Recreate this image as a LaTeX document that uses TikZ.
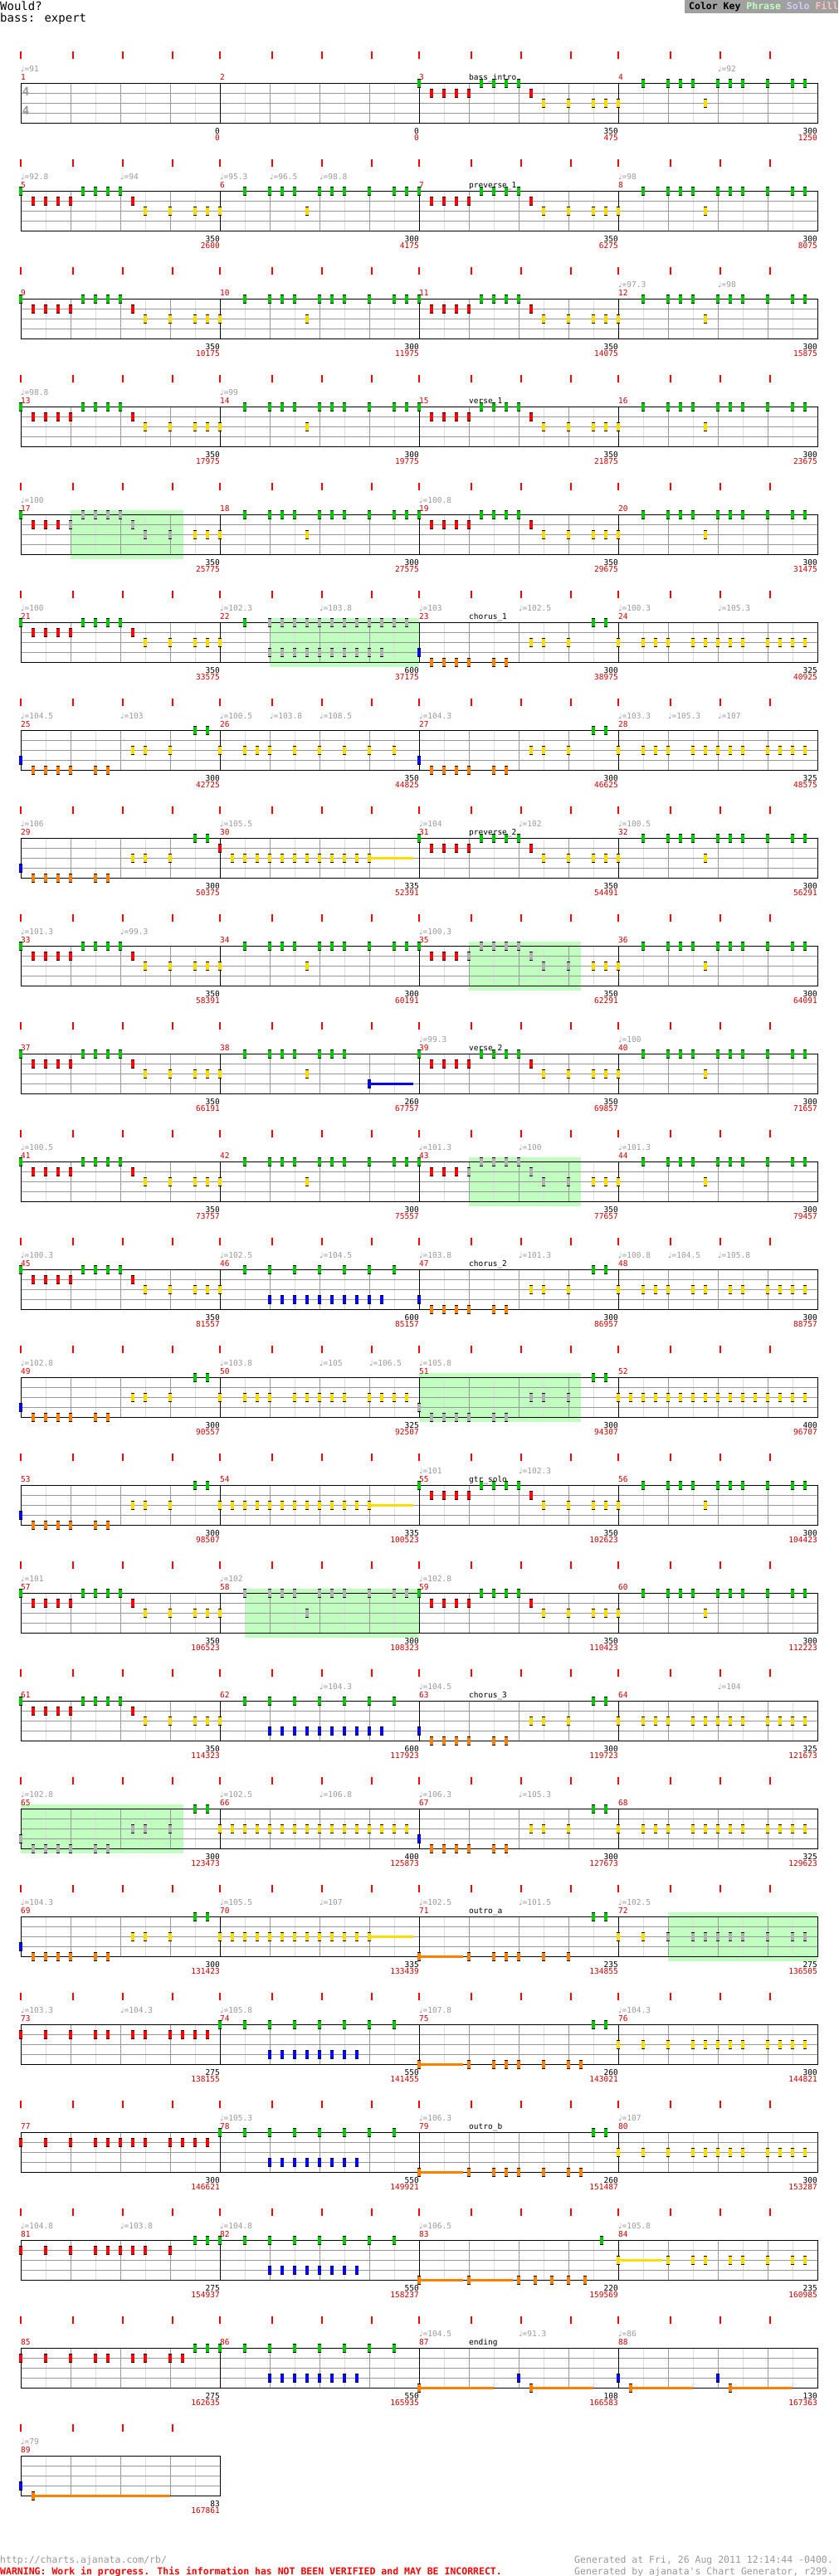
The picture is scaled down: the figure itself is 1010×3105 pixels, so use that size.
\documentclass[tikz,border=0pt]{standalone}
\usepackage{fontspec}
\newfontfamily\chartfont{DejaVu Sans Mono}
\newfontfamily\notefont{DejaVu Sans}

\definecolor{gemgreen}{RGB}{0,200,0}
\definecolor{gemred}{RGB}{255,0,0}
\definecolor{gemyellow}{RGB}{255,221,0}
\definecolor{gemblue}{RGB}{0,0,255}
\definecolor{gemorange}{RGB}{255,128,0}
\definecolor{gemgray}{RGB}{176,176,176}
\definecolor{phrasegreen}{RGB}{192,255,192}
\definecolor{solocolor}{RGB}{204,204,255}
\definecolor{fillcolor}{RGB}{255,192,192}
\definecolor{keygray}{RGB}{160,160,160}
\definecolor{numred}{RGB}{204,0,0}
\definecolor{beatgray}{RGB}{153,153,153}
\definecolor{halfgray}{RGB}{221,221,221}

\tikzset{
  halfline/.style={draw=halfgray,line width=1pt},
  beatline/.style={draw=beatgray,line width=1pt},
  barline/.style={draw=black,line width=1pt},
  smallfont/.style={inner sep=0pt,font=\chartfont\fontsize{9.5}{10}\selectfont},
  measnum/.style={smallfont,anchor=base west,text=numred},
  tempolabel/.style={smallfont,anchor=base west,text=beatgray},
  seclabel/.style={smallfont,anchor=base west,text=black},
  tally/.style={smallfont,anchor=base east},
  timesig/.style={inner sep=0pt,text=beatgray,font=\chartfont\bfseries\fontsize{14}{14}\selectfont},
  titletext/.style={inner sep=0pt,anchor=base west,font=\chartfont\fontsize{14}{16}\selectfont},
  foottext/.style={inner sep=0pt,font=\chartfont\fontsize{11.5}{12}\selectfont},
}

% gems: lane, colour, measure x, staff top, sixteenths
\newcommand{\gems}[5]{%
  \foreach \s in {#5}{
    \fill[black] ({#3+15*\s-1.75},{#4+12*#1-5.5}) rectangle ++(3.5,11);
    \fill[#2] ({#3+15*\s-1.75},{#4+12*#1-4.5}) rectangle ++(3.5,9);
  }}
% sustained gem: lane, colour, measure x, staff top, start, end
\newcommand{\sus}[6]{%
  \fill[#2] ({#3+15*#5},{#4+12*#1-1.5}) rectangle ({#3+15*#6},{#4+12*#1+1.5});
  \gems{#1}{#2}{#3}{#4}{#5}}
\newcommand{\phrase}[3]{\fill[phrasegreen] (#1,{#3-5}) rectangle (#2,{#3+54});}

% one row of the chart: staff top, measures, first measure number
\newcommand{\chartrow}[3]{%
  \pgfmathsetmacro\xend{25+240*#2}
  \foreach \m in {1,...,#2}{
    \pgfmathsetmacro\X{25+240*(\m-1)}
    \pgfmathtruncatemacro\mn{#3+\m-1}
    \foreach \o in {0,62.5,122.5,182.5}
      \fill[gemred] ({\X+\o-1},{#1-38}) rectangle ++(2,8.5);
    \foreach \o in {30,90,150,210}
      \draw[halfline] ({\X+\o},#1) -- ++(0,48);
    \foreach \o in {60,120,180}
      \draw[beatline] ({\X+\o},#1) -- ++(0,48);
    \node[measnum] at (\X,{#1-3.5}) {\mn};
  }
  \foreach \l in {12,24,36}
    \draw[beatline] (25,{#1+\l}) -- (\xend,{#1+\l});
  \foreach \m in {1,...,#2}
    \draw[barline] ({25+240*(\m-1)},#1) -- ++(0,48);
  \draw[barline] (25,#1) rectangle (\xend,{#1+48});
}
\newcommand{\tempos}[2]{\foreach \xt/\bpm in {#2}
  \node[tempolabel] at (\xt,{#1-13.5}) {{\notefont ♩}=\bpm};}
\newcommand{\barcounts}[2]{\foreach \xe/\bn/\rn in {#2}{
  \node[tally] at (\xe,{#1+61}) {\bn};
  \node[tally,text=numred] at (\xe,{#1+69.5}) {\rn};}}

% riffs
\newcommand{\riffA}[2]{\gems{0}{gemgreen}{#1}{#2}{0,5,6,7,8}\gems{1}{gemred}{#1}{#2}{1,2,3,4,9}\gems{2}{gemyellow}{#1}{#2}{10,12,14,15}}
\newcommand{\riffAp}[2]{\gems{0}{gemgreen}{#1}{#2}{0}\gems{1}{gemred}{#1}{#2}{1,2,3}%
  \gems{1}{gemgray}{#1}{#2}{4,9}\gems{0}{gemgray}{#1}{#2}{5,6,7,8}\gems{2}{gemgray}{#1}{#2}{10,12}%
  \gems{2}{gemyellow}{#1}{#2}{14,15}}
\newcommand{\riffB}[2]{\gems{2}{gemyellow}{#1}{#2}{0,7}\gems{0}{gemgreen}{#1}{#2}{2,4,5,6,8,9,10,12,14,15}}
\newcommand{\riffC}[2]{\gems{3}{gemblue}{#1}{#2}{0}\gems{4}{gemorange}{#1}{#2}{1,2,3,4,6,7}%
  \gems{2}{gemyellow}{#1}{#2}{9,10,12}\gems{0}{gemgreen}{#1}{#2}{14,15}}
\newcommand{\riffCp}[2]{\gems{3}{gemgray}{#1}{#2}{0}\gems{4}{gemgray}{#1}{#2}{1,2,3,4,6,7}%
  \gems{2}{gemgray}{#1}{#2}{9,10,12}\gems{0}{gemgreen}{#1}{#2}{14,15}}
\newcommand{\riffD}[2]{\gems{2}{gemyellow}{#1}{#2}{0,2,3,4,6,7,8,9,10,12,13,14,15}}
\newcommand{\riffH}[2]{\gems{2}{gemyellow}{#1}{#2}{0}\gems{0}{gemgreen}{#1}{#2}{2,4,...,15}\gems{3}{gemblue}{#1}{#2}{4,...,13}}
\newcommand{\riffK}[2]{\gems{0}{gemgreen}{#1}{#2}{0,2,4,...,15}\gems{3}{gemblue}{#1}{#2}{4,...,11}}
\newcommand{\riffL}[2]{\sus{4}{gemorange}{#1}{#2}{0}{3.5}\gems{4}{gemorange}{#1}{#2}{4,6,7,8,10,12,13}\gems{0}{gemgreen}{#1}{#2}{14,15}}
\newcommand{\riffM}[2]{\gems{2}{gemyellow}{#1}{#2}{0,2,4,6,7,8,9,10,12,13,14,15}}
\newcommand{\riffF}[2]{\sus{2}{gemyellow}{#1}{#2}{12}{15.5}\gems{2}{gemyellow}{#1}{#2}{0,...,11}}

\begin{document}
\begin{tikzpicture}[x=1pt,y=-1pt]
\useasboundingbox (0,0) rectangle (1010,3105);

% header and colour key
\node[titletext] (title) at (0,12.7) {Would?};
\node[titletext] (part) at (0,26.7) {bass: expert};
\fill[keygray] (825,0) rectangle (1010,16);
\node[inner sep=0pt,anchor=base west,font=\chartfont\bfseries\fontsize{11.5}{12}\selectfont] (key) at (830,11)
  {Color Key \textcolor{phrasegreen}{Phrase} \textcolor{solocolor}{Solo} \textcolor{fillcolor}{Fill}};

% measures 1-4
\chartrow{100}{4}{1}
\node[timesig] (ts1) at (31,110) {4};
\node[timesig] (ts2) at (31,133) {4};
\riffA{505}{100}\riffB{745}{100}
\tempos{100}{25/91,865/92}
\node[seclabel] at (565,96) {bass\_intro};
\barcounts{100}{265/0/0,505/0/0,745/350/475,985/300/1250}

% measures 5-8
\chartrow{230}{4}{5}
\riffA{25}{230}\riffB{265}{230}\riffA{505}{230}\riffB{745}{230}
\tempos{230}{25/92.8,145/94,265/95.3,325/96.5,385/98.8,745/98}
\node[seclabel] at (565,226) {preverse\_1};
\barcounts{230}{265/350/2600,505/300/4175,745/350/6275,985/300/8075}

% measures 9-12
\chartrow{360}{4}{9}
\riffA{25}{360}\riffB{265}{360}\riffA{505}{360}\riffB{745}{360}
\tempos{360}{745/97.3,865/98}
\barcounts{360}{265/350/10175,505/300/11975,745/350/14075,985/300/15875}

% measures 13-16
\chartrow{490}{4}{13}
\riffA{25}{490}\riffB{265}{490}\riffA{505}{490}\riffB{745}{490}
\tempos{490}{25/98.8,265/99}
\node[seclabel] at (565,486) {verse\_1};
\barcounts{490}{265/350/17975,505/300/19775,745/350/21875,985/300/23675}

% measures 17-20
\phrase{85}{221}{620}
\chartrow{620}{4}{17}
\riffAp{25}{620}\riffB{265}{620}\riffA{505}{620}\riffB{745}{620}
\tempos{620}{25/100,505/100.8}
\barcounts{620}{265/350/25775,505/300/27575,745/350/29675,985/300/31475}

% measures 21-24
\phrase{325}{505}{750}
\chartrow{750}{4}{21}
\riffA{25}{750}
\gems{2}{gemyellow}{265}{750}{0}\gems{0}{gemgreen}{265}{750}{2}
\gems{0}{gemgray}{265}{750}{4,...,15}\gems{3}{gemgray}{265}{750}{4,...,13}
\riffC{505}{750}\riffD{745}{750}
\tempos{750}{25/100,265/102.3,385/103.8,505/103,625/102.5,745/100.3,865/105.3}
\node[seclabel] at (565,746) {chorus\_1};
\barcounts{750}{265/350/33575,505/600/37175,745/300/38975,985/325/40925}

% measures 25-28
\chartrow{880}{4}{25}
\riffC{25}{880}
\gems{2}{gemyellow}{265}{880}{0,2,3,4,6,...,15}
\riffC{505}{880}\riffD{745}{880}
\tempos{880}{25/104.5,145/103,265/100.5,325/103.8,385/108.5,505/104.3,745/103.3,805/105.3,865/107}
\barcounts{880}{265/300/42725,505/350/44825,745/300/46625,985/325/48575}

% measures 29-32
\chartrow{1010}{4}{29}
\riffC{25}{1010}
\gems{1}{gemred}{265}{1010}{0}\sus{2}{gemyellow}{265}{1010}{12}{15.5}\gems{2}{gemyellow}{265}{1010}{1,...,11}
\riffA{505}{1010}\riffB{745}{1010}
\tempos{1010}{25/106,265/105.5,505/104,625/102,745/100.5}
\node[seclabel] at (565,1006) {preverse\_2};
\barcounts{1010}{265/300/50375,505/335/52391,745/350/54491,985/300/56291}

% measures 33-36
\phrase{565}{700}{1140}
\chartrow{1140}{4}{33}
\riffA{25}{1140}\riffB{265}{1140}\riffAp{505}{1140}\riffB{745}{1140}
\tempos{1140}{25/101.3,145/99.3,505/100.3}
\barcounts{1140}{265/350/58391,505/300/60191,745/350/62291,985/300/64091}

% measures 37-40
\chartrow{1270}{4}{37}
\riffA{25}{1270}
\gems{2}{gemyellow}{265}{1270}{0,7}\gems{0}{gemgreen}{265}{1270}{2,4,5,6,8,9,10}\sus{3}{gemblue}{265}{1270}{12}{15.5}
\riffA{505}{1270}\riffB{745}{1270}
\tempos{1270}{505/99.3,745/100}
\node[seclabel] at (565,1266) {verse\_2};
\barcounts{1270}{265/350/66191,505/260/67757,745/350/69857,985/300/71657}

% measures 41-44
\phrase{565}{700}{1400}
\chartrow{1400}{4}{41}
\riffA{25}{1400}\riffB{265}{1400}\riffAp{505}{1400}\riffB{745}{1400}
\tempos{1400}{25/100.5,505/101.3,625/100,745/101.3}
\barcounts{1400}{265/350/73757,505/300/75557,745/350/77657,985/300/79457}

% measures 45-48
\chartrow{1530}{4}{45}
\riffA{25}{1530}\riffH{265}{1530}\riffC{505}{1530}
\gems{2}{gemyellow}{745}{1530}{0,2,3,4,6,7,9,10,12,13,14,15}
\tempos{1530}{25/100.3,265/102.5,385/104.5,505/103.8,625/101.3,745/100.8,805/104.5,865/105.8}
\node[seclabel] at (565,1526) {chorus\_2};
\barcounts{1530}{265/350/81557,505/600/85157,745/300/86957,985/300/88757}

% measures 49-52
\phrase{505}{700}{1660}
\chartrow{1660}{4}{49}
\riffC{25}{1660}\riffD{265}{1660}\riffCp{505}{1660}
\gems{2}{gemyellow}{745}{1660}{0,...,15}
\tempos{1660}{25/102.8,265/103.8,385/105,445/106.5,505/105.8}
\barcounts{1660}{265/300/90557,505/325/92507,745/300/94307,985/400/96707}

% measures 53-56
\chartrow{1790}{4}{53}
\riffC{25}{1790}\riffF{265}{1790}\riffA{505}{1790}\riffB{745}{1790}
\tempos{1790}{505/101,625/102.3}
\node[seclabel] at (565,1786) {gtr\_solo};
\barcounts{1790}{265/300/98507,505/335/100523,745/350/102623,985/300/104423}

% measures 57-60
\phrase{295}{505}{1920}
\chartrow{1920}{4}{57}
\riffA{25}{1920}
\gems{2}{gemyellow}{265}{1920}{0}\gems{2}{gemgray}{265}{1920}{7}\gems{0}{gemgray}{265}{1920}{2,4,5,6,8,9,10,12,14,15}
\riffA{505}{1920}\riffB{745}{1920}
\tempos{1920}{25/101,265/102,505/102.8}
\barcounts{1920}{265/350/106523,505/300/108323,745/350/110423,985/300/112223}

% measures 61-64
\chartrow{2050}{4}{61}
\riffA{25}{2050}\riffH{265}{2050}\riffC{505}{2050}\riffD{745}{2050}
\tempos{2050}{385/104.3,505/104.5,865/104}
\node[seclabel] at (565,2046) {chorus\_3};
\barcounts{2050}{265/350/114323,505/600/117923,745/300/119723,985/325/121673}

% measures 65-68
\phrase{25}{221}{2180}
\chartrow{2180}{4}{65}
\riffCp{25}{2180}
\gems{2}{gemyellow}{265}{2180}{0,...,15}
\riffC{505}{2180}\riffD{745}{2180}
\tempos{2180}{25/102.8,265/102.5,385/106.8,505/106.3,625/105.3}
\barcounts{2180}{265/300/123473,505/400/125873,745/300/127673,985/325/129623}

% measures 69-72
\phrase{805}{985}{2310}
\chartrow{2310}{4}{69}
\riffC{25}{2310}\riffF{265}{2310}
\sus{4}{gemorange}{505}{2310}{0}{3.5}\gems{4}{gemorange}{505}{2310}{4,6,7,8,10,12}\gems{0}{gemgreen}{505}{2310}{14,15}
\gems{2}{gemyellow}{745}{2310}{0,2}\gems{2}{gemgray}{745}{2310}{4,6,7,8,9,10,12,14,15}
\tempos{2310}{25/104.3,265/105.5,385/107,505/102.5,625/101.5,745/102.5}
\node[seclabel] at (565,2306) {outro\_a};
\barcounts{2310}{265/300/131423,505/335/133439,745/235/134855,985/275/136505}

% measures 73-76
\chartrow{2440}{4}{73}
\gems{1}{gemred}{25}{2440}{0,2,4,6,7,9,10,12,13,14,15}
\riffK{265}{2440}\riffL{505}{2440}\riffM{745}{2440}
\tempos{2440}{25/103.3,145/104.3,265/105.8,505/107.8,745/104.3}
\barcounts{2440}{265/275/138155,505/550/141455,745/260/143021,985/300/144821}

% measures 77-80
\chartrow{2570}{4}{77}
\gems{1}{gemred}{25}{2570}{0,2,4,6,7,8,9,10,12,13,14,15}
\riffK{265}{2570}\riffL{505}{2570}\riffM{745}{2570}
\tempos{2570}{265/105.3,505/106.3,745/107}
\node[seclabel] at (565,2566) {outro\_b};
\barcounts{2570}{265/300/146621,505/550/149921,745/260/151487,985/300/153287}

% measures 81-84
\chartrow{2700}{4}{81}
\gems{1}{gemred}{25}{2700}{0,2,4,6,7,8,9,10,12}\gems{0}{gemgreen}{25}{2700}{14,15}
\riffK{265}{2700}
\sus{4}{gemorange}{505}{2700}{0}{3.5}\sus{4}{gemorange}{505}{2700}{4}{7.5}
\gems{4}{gemorange}{505}{2700}{8,9.333,10.667,12,13.333}\gems{0}{gemgreen}{505}{2700}{14.667}
\sus{2}{gemyellow}{745}{2700}{0}{3.5}\gems{2}{gemyellow}{745}{2700}{4,6,7,9,10,12,14,15}
\tempos{2700}{25/104.8,145/103.8,265/104.8,505/106.5,745/105.8}
\barcounts{2700}{265/275/154937,505/550/158237,745/220/159569,985/235/160985}

% measures 85-88
\chartrow{2830}{4}{85}
\gems{1}{gemred}{25}{2830}{0,2,4,6,7,9,10,12,13}\gems{0}{gemgreen}{25}{2830}{14,15}
\riffK{265}{2830}
\sus{4}{gemorange}{505}{2830}{0}{6}\gems{3}{gemblue}{505}{2830}{8}\sus{4}{gemorange}{505}{2830}{9}{14}
\gems{3}{gemblue}{745}{2830}{0,8}\sus{4}{gemorange}{745}{2830}{1}{6}\sus{4}{gemorange}{745}{2830}{9}{14}
\tempos{2830}{505/104.5,625/91.3,745/86}
\node[seclabel] at (565,2826) {ending};
\barcounts{2830}{265/275/162635,505/550/165935,745/108/166583,985/130/167363}

% measure 89
\chartrow{2960}{1}{89}
\gems{3}{gemblue}{25}{2960}{0}\sus{4}{gemorange}{25}{2960}{1}{12}
\tempos{2960}{25/79}
\barcounts{2960}{265/83/167861}

% footer
\node[foottext,anchor=base west,text=beatgray] (url) at (0,3089) {http://charts.ajanata.com/rb/};
\node[foottext,anchor=base west,text=gemred,font=\chartfont\bfseries\fontsize{11.5}{12}\selectfont] (warn) at (0,3103)
  {WARNING: Work in progress. This information has NOT BEEN VERIFIED and MAY BE INCORRECT.};
\node[foottext,anchor=base east,text=beatgray] (gen1) at (1004,3089) {Generated at Fri, 26 Aug 2011 12:14:44 -0400.};
\node[foottext,anchor=base east,text=beatgray] (gen2) at (1004,3103) {Generated by ajanata's Chart Generator, r299.};
\end{tikzpicture}
\end{document}
